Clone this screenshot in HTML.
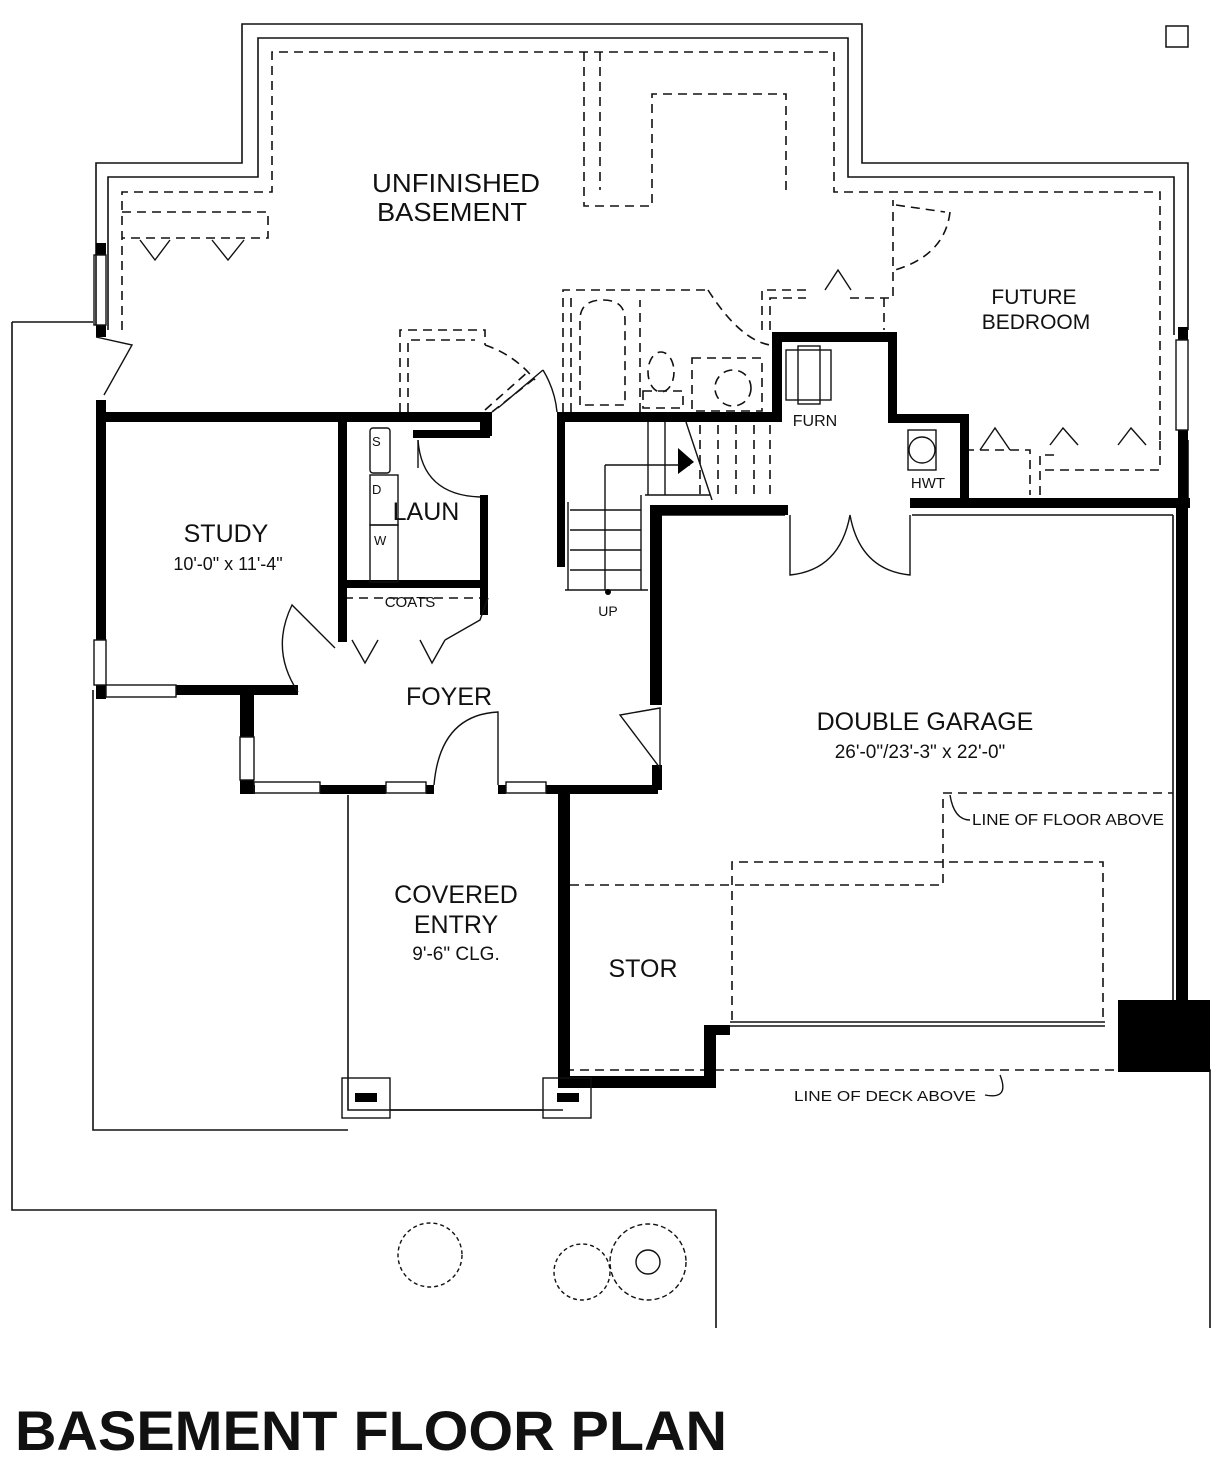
<!DOCTYPE html>
<html><head><meta charset="utf-8"><style>
html,body{margin:0;padding:0;background:#fff;}
svg{display:block;}
text{font-family:"Liberation Sans",sans-serif;fill:#111;}
</style></head><body>
<svg width="1226" height="1470" viewBox="0 0 1226 1470" xmlns="http://www.w3.org/2000/svg">
<rect width="1226" height="1470" fill="#fff"/>
<g fill="none" stroke="#111" stroke-width="1.6">
<polyline points="96,325 96,163 242,163 242,24 862,24 862,163 1188,163 1188,330"/>
<polyline points="108,330 108,177 258,177 258,38 848,38 848,177 1174,177 1174,335"/>
<polyline points="1188,440 1188,500"/>
<polyline points="12,322 93,322"/>
<polyline points="12,322 12,1210 716,1210 716,1328"/>
<polyline points="93,690 93,1130 348,1130"/>
<polyline points="1180,1070 1210,1070 1210,1328"/>
<polyline points="348,795 348,1110 563,1110"/>
<polyline points="1173,515 1173,1000"/>
<polyline points="660,515 785,515"/>
<polyline points="912,515 1173,515"/>
<polyline points="730,1022 1105,1022"/>
<polyline points="730,1026 1105,1026"/>
</g>
<g fill="none" stroke="#111" stroke-width="1.6" stroke-dasharray="9,6">
<polyline points="122,330 122,192 272,192 272,52 834,52 834,192 1160,192 1160,440"/>
<polyline points="584,52 584,206 652,206 652,94 786,94 786,192"/>
<line x1="600" y1="52" x2="600" y2="190"/>
<polyline points="122,212 268,212 268,238 122,238"/>
<polyline points="400,412 400,330 485,330 485,345"/>
<polyline points="408,412 408,340 475,340"/>
<polyline points="563,412 563,290 708,290"/>
<polyline points="571,412 571,298"/>
<polyline points="640,412 640,300"/>
<polyline points="762,330 762,290 806,290"/>
<polyline points="770,330 770,298 806,298"/>
<polyline points="850,298 893,298 893,200"/>
<polyline points="884,298 884,330"/>
<polyline points="965,450 1030,450 1030,495"/>
<polyline points="1040,495 1040,455 1060,455"/>
<polyline points="1045,470 1160,470 1160,440"/>
<polyline points="570,885 943,885 943,793 1173,793"/>
<polyline points="732,1020 732,862 1103,862 1103,1020"/>
<line x1="565" y1="1070" x2="1120" y2="1070"/>
<polyline points="344,598 480,598"/>
<polyline points="896,205 945,212"/>
<path d="M708,290 Q740,340 770,345"/>
<path d="M950,212 Q945,255 895,270"/>
<path d="M485,345 Q515,355 535,380"/>
<line x1="485" y1="410" x2="530" y2="370"/>
<line x1="492" y1="412" x2="535" y2="378"/>
<line x1="700" y1="425" x2="700" y2="500"/>
<line x1="718" y1="425" x2="718" y2="500"/>
<line x1="736" y1="425" x2="736" y2="500"/>
<line x1="754" y1="425" x2="754" y2="500"/>
<line x1="770" y1="425" x2="770" y2="500"/>
<rect x="643" y="391" width="40" height="17"/>
<rect x="692" y="358" width="70" height="53"/>
<path d="M580,405 L580,320 Q580,300 603,300 Q625,300 625,320 L625,405 Z"/>
<ellipse cx="661" cy="372" rx="13" ry="20"/>
<circle cx="733" cy="388" r="18"/>
</g>
<g fill="#000">
<rect x="96" y="412" width="394" height="10"/>
<rect x="480" y="412" width="12" height="24"/>
<rect x="413" y="430" width="77" height="8"/>
<rect x="557" y="412" width="222" height="10"/>
<rect x="96" y="412" width="10" height="228"/>
<rect x="96" y="243" width="10" height="12"/>
<rect x="96" y="325" width="10" height="12"/>
<rect x="96" y="400" width="10" height="14"/>
<rect x="96" y="685" width="10" height="14"/>
<rect x="176" y="685" width="122" height="10"/>
<rect x="338" y="422" width="9" height="220"/>
<rect x="342" y="580" width="146" height="8"/>
<rect x="480" y="495" width="8" height="120"/>
<rect x="240" y="695" width="14" height="42"/>
<rect x="240" y="780" width="14" height="14"/>
<rect x="240" y="785" width="15" height="9"/>
<rect x="320" y="785" width="66" height="9"/>
<rect x="426" y="785" width="8" height="9"/>
<rect x="498" y="785" width="8" height="9"/>
<rect x="546" y="785" width="112" height="9"/>
<rect x="557" y="412" width="8" height="155"/>
<rect x="650" y="505" width="12" height="200"/>
<rect x="650" y="505" width="138" height="10"/>
<rect x="652" y="765" width="10" height="25"/>
<rect x="772" y="332" width="10" height="90"/>
<rect x="772" y="332" width="124" height="10"/>
<rect x="888" y="332" width="9" height="90"/>
<rect x="888" y="414" width="80" height="9"/>
<rect x="960" y="414" width="9" height="92"/>
<rect x="910" y="498" width="280" height="10"/>
<rect x="1178" y="327" width="10" height="13"/>
<rect x="1178" y="430" width="10" height="70"/>
<rect x="1176" y="498" width="12" height="505"/>
<rect x="1118" y="1000" width="92" height="72"/>
<rect x="558" y="790" width="12" height="298"/>
<rect x="558" y="1076" width="158" height="12"/>
<rect x="704" y="1025" width="12" height="60"/>
<rect x="704" y="1025" width="26" height="10"/>
</g>
<g fill="none" stroke="#111" stroke-width="1.4">
<rect x="94" y="255" width="12" height="70"/>
<rect x="94" y="640" width="12" height="45"/>
<rect x="106" y="685" width="70" height="12"/>
<rect x="240" y="737" width="14" height="43"/>
<rect x="254" y="782" width="66" height="11"/>
<rect x="386" y="782" width="40" height="11"/>
<rect x="506" y="782" width="40" height="11"/>
<rect x="1176" y="340" width="12" height="90"/>
<path d="M96,337 L132,345 L104,395"/>
<path d="M418,440 Q422,495 480,497"/>
<line x1="418" y1="440" x2="418" y2="468"/>
<path d="M498,408 L543,370"/>
<path d="M543,370 Q555,390 557,412"/>
<path d="M298,692 Q270,650 292,605 L335,648"/>
<path d="M434,785 Q440,715 498,712 L498,785"/>
<path d="M660,708 L660,768 L620,715 Z"/>
<path d="M790,515 L790,575 Q840,570 850,515 Q860,570 910,575 L910,515"/>
<rect x="370" y="428" width="20" height="45" rx="3"/>
<rect x="370" y="475" width="28" height="50"/>
<rect x="370" y="525" width="28" height="57"/>
<polyline points="352,640 365,663 378,640"/>
<polyline points="420,640 432,663 445,640"/>
<path d="M445,640 L480,620 L488,598"/>
<polyline points="605,465 690,465"/>
<line x1="605" y1="465" x2="605" y2="590"/>
<line x1="568" y1="502" x2="568" y2="590"/>
<line x1="565" y1="590" x2="648" y2="590"/>
<line x1="641" y1="495" x2="641" y2="590"/>
<line x1="645" y1="495" x2="710" y2="495"/>
<line x1="570" y1="510" x2="641" y2="510"/>
<line x1="570" y1="530" x2="641" y2="530"/>
<line x1="570" y1="550" x2="641" y2="550"/>
<line x1="570" y1="570" x2="641" y2="570"/>
<line x1="648" y1="422" x2="648" y2="495"/>
<line x1="665" y1="422" x2="665" y2="495"/>
<line x1="686" y1="422" x2="712" y2="500"/>
<rect x="786" y="350" width="45" height="50"/>
<rect x="798" y="346" width="22" height="58"/>
<rect x="908" y="430" width="28" height="40"/>
<circle cx="922" cy="450" r="13"/>
<polyline points="980,450 995,428 1010,450"/>
<polyline points="1050,445 1063,428 1078,445"/>
<polyline points="1118,445 1131,428 1146,445"/>
<polyline points="825,290 838,270 851,290"/>
<polyline points="140,240 155,260 170,240"/>
<polyline points="212,240 228,260 244,240"/>
<rect x="342" y="1078" width="48" height="40"/>
<rect x="543" y="1078" width="48" height="40"/>
<line x1="390" y1="1110" x2="543" y2="1110"/>
<path d="M950,795 Q954,820 970,820"/>
<path d="M985,1095 Q1010,1100 1000,1075"/>
<circle cx="430" cy="1255" r="32" stroke-dasharray="4,3"/>
<circle cx="582" cy="1272" r="28" stroke-dasharray="4,3"/>
<circle cx="648" cy="1262" r="38" stroke-dasharray="5,3"/>
<circle cx="648" cy="1262" r="12"/>
</g>
<g fill="#000">
<rect x="355" y="1093" width="22" height="9"/>
<rect x="557" y="1093" width="22" height="9"/>
<path d="M678,448 L694,462 L678,474 Z"/>
<circle cx="608" cy="592" r="3"/>
</g>
<text x="372" y="192" font-size="26" textLength="168" lengthAdjust="spacingAndGlyphs">UNFINISHED</text>
<text x="377" y="221" font-size="26" textLength="150" lengthAdjust="spacingAndGlyphs">BASEMENT</text>
<text x="1034" y="304" font-size="21" text-anchor="middle">FUTURE</text>
<text x="1036" y="329" font-size="21" text-anchor="middle">BEDROOM</text>
<text x="815" y="426" font-size="16" text-anchor="middle">FURN</text>
<text x="928" y="488" font-size="15" text-anchor="middle">HWT</text>
<text x="226" y="542" font-size="25" text-anchor="middle">STUDY</text>
<text x="228" y="570" font-size="18" text-anchor="middle">10'-0" x 11'-4"</text>
<text x="426" y="520" font-size="25" text-anchor="middle">LAUN</text>
<text x="372" y="446" font-size="13">S</text>
<text x="372" y="494" font-size="13">D</text>
<text x="374" y="545" font-size="13">W</text>
<text x="410" y="607" font-size="15" text-anchor="middle">COATS</text>
<text x="608" y="616" font-size="14" text-anchor="middle">UP</text>
<text x="449" y="705" font-size="25" text-anchor="middle">FOYER</text>
<text x="925" y="730" font-size="25" text-anchor="middle">DOUBLE GARAGE</text>
<text x="920" y="758" font-size="19" text-anchor="middle">26'-0"/23'-3" x 22'-0"</text>
<text x="972" y="825" font-size="16" textLength="192" lengthAdjust="spacingAndGlyphs">LINE OF FLOOR ABOVE</text>
<text x="456" y="903" font-size="25" text-anchor="middle">COVERED</text>
<text x="456" y="933" font-size="25" text-anchor="middle">ENTRY</text>
<text x="456" y="960" font-size="19" text-anchor="middle">9'-6" CLG.</text>
<text x="643" y="977" font-size="25" text-anchor="middle">STOR</text>
<text x="794" y="1101" font-size="15" textLength="182" lengthAdjust="spacingAndGlyphs">LINE OF DECK ABOVE</text>
<text x="15" y="1450" font-size="56" font-weight="bold" textLength="712" lengthAdjust="spacingAndGlyphs">BASEMENT FLOOR PLAN</text>
<rect x="1166" y="26" width="22" height="21" fill="none" stroke="#111" stroke-width="1.5"/>
</svg>
</body></html>
